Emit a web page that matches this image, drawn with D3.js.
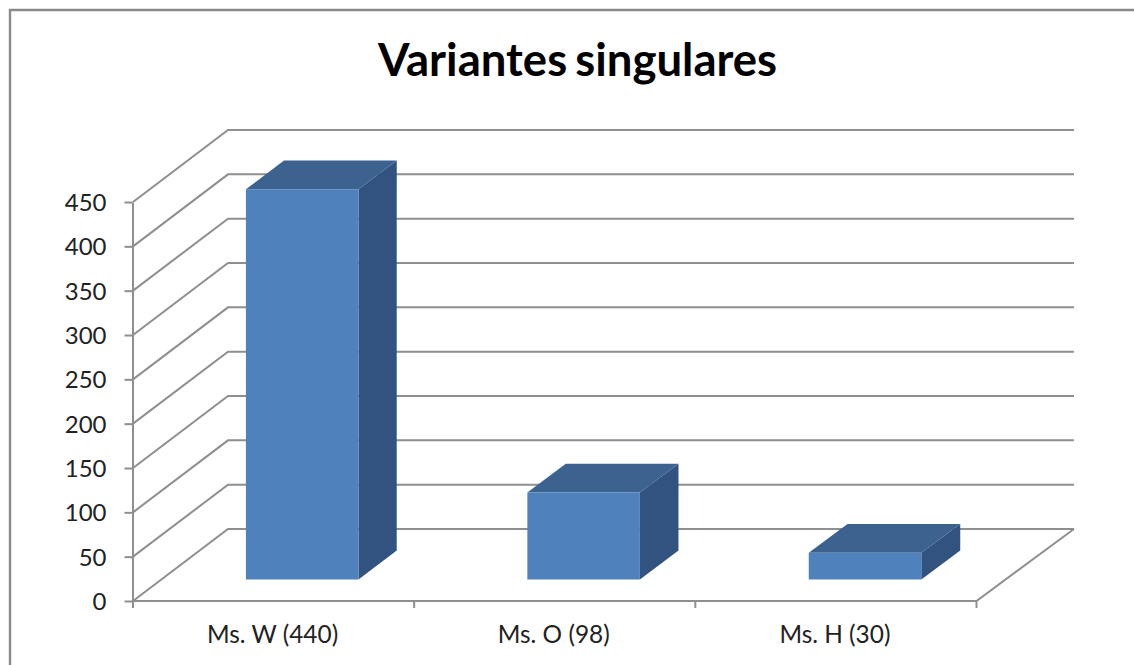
<!DOCTYPE html>
<html>
<head>
<meta charset="utf-8">
<script src="https://cdnjs.cloudflare.com/ajax/libs/d3/7.8.5/d3.min.js"></script>
<style>
  html, body { margin: 0; padding: 0; background: #fff; }
  svg { display: block; }
  text { font-family: Lato, "Open Sans", sans-serif; fill: #222; }
</style>
</head>
<body>
<svg id="chart" width="1134" height="665"></svg>
<script>
"use strict";

// data
const titleText = "Variantes singulares";
const categories = ["Ms. W (440)", "Ms. O (98)", "Ms. H (30)"];
const values = [440, 98, 30];
const yTicks = [0, 50, 100, 150, 200, 250, 300, 350, 400, 450];

const svg = d3.select("#chart");

// front plane of the 3d box, the back wall sits at depthX/depthY from it
const x = d3.scaleBand().domain(categories).range([133, 976.5])
  .paddingInner(0.6).paddingOuter(0.3);
const y = d3.scaleLinear().domain([0, 450]).range([601, 202]);
const depthX = d3.scaleLinear().domain(x.range()).range([95, 97.5]); // slight perspective
const depthY = -72;
const zNear = 0.3; // where the bars start in the depth
const zFar = 0.7; // where the bars end

function project(px, py, z) {
  return [px + depthX(px) * z, py + depthY * z];
}

const line = d3.line();
const gridColor = "#8f8f8f";
const gridWidth = 2;

// chart border
svg.append("path")
  .attr("d", "M10,665V10H1134")
  .attr("fill", "none")
  .attr("stroke", "#8a8a8a")
  .attr("stroke-width", 2.4);

svg.append("text")
  .attr("x", 577.5)
  .attr("y", 76)
  .attr("text-anchor", "middle")
  .attr("font-size", 45.5)
  .attr("font-weight", 700)
  .attr("word-spacing", -3)
  .style("fill", "#000")
  .text(titleText);

// gridlines: side wall then back wall
const x0 = x.range()[0];
const x1 = x.range()[1];

svg.append("g")
  .selectAll("path")
  .data(yTicks)
  .join("path")
  .attr("d", (d) =>
    line([[x0, y(d)], project(x0, y(d), 1), project(x1, y(d), 1)])
  )
  .attr("fill", "none")
  .attr("stroke", gridColor)
  .attr("stroke-width", gridWidth);

// floor right edge and front edge
svg.append("path")
  .attr("d", line([project(x1, y(0), 1), [x1, y(0)], [x0, y(0)]]))
  .attr("fill", "none")
  .attr("stroke", gridColor)
  .attr("stroke-width", gridWidth);

// bars
const bars = svg.append("g")
  .selectAll("g")
  .data(categories.map((c, i) => ({ name: c, value: values[i] })))
  .join("g");

function face(d, kind) {
  const l = x(d.name);
  const r = l + x.bandwidth();
  const t = y(d.value);
  const b = y(0);
  if (kind === "front") {
    return [project(l, b, zNear), project(r, b, zNear), project(r, t, zNear), project(l, t, zNear)];
  }
  if (kind === "top") {
    return [project(l, t, zNear), project(r, t, zNear), project(r, t, zFar), project(l, t, zFar)];
  }
  return [project(r, b, zNear), project(r, b, zFar), project(r, t, zFar), project(r, t, zNear)];
}

bars.append("path")
  .attr("d", (d) => line(face(d, "side")) + "Z")
  .attr("fill", "#325380");
bars.append("path")
  .attr("d", (d) => line(face(d, "top")) + "Z")
  .attr("fill", "#3c628f");
bars.append("path")
  .attr("d", (d) => line(face(d, "front")) + "Z")
  .attr("fill", "#4f81bd");

// y axis
const yAxis = svg.append("g")
  .attr("transform", "translate(" + (x0 - 0.5) + ",0)")
  .call(d3.axisLeft(y).tickValues(yTicks).tickSize(8).tickPadding(18).tickSizeOuter(0));
yAxis.selectAll("line, path").attr("stroke", gridColor).attr("stroke-width", gridWidth);
yAxis.selectAll("text").attr("font-size", 24).attr("font-family", null).attr("dy", "0.36em");

// x axis, the ticks go on the band edges so only labels come from the axis
const xAxis = svg.append("g")
  .attr("transform", "translate(-1," + y(0) + ")")
  .call(d3.axisBottom(x).tickSize(0).tickPadding(25));
xAxis.select(".domain").remove();
xAxis.selectAll("text").attr("font-size", 24.4).attr("font-family", null);

const step = x.step();
svg.append("g")
  .selectAll("line")
  .data(d3.range(categories.length + 1))
  .join("line")
  .attr("x1", (i) => x0 + i * step)
  .attr("x2", (i) => x0 + i * step)
  .attr("y1", y(0))
  .attr("y2", y(0) + 7)
  .attr("stroke", gridColor)
  .attr("stroke-width", gridWidth);
</script>
</body>
</html>
